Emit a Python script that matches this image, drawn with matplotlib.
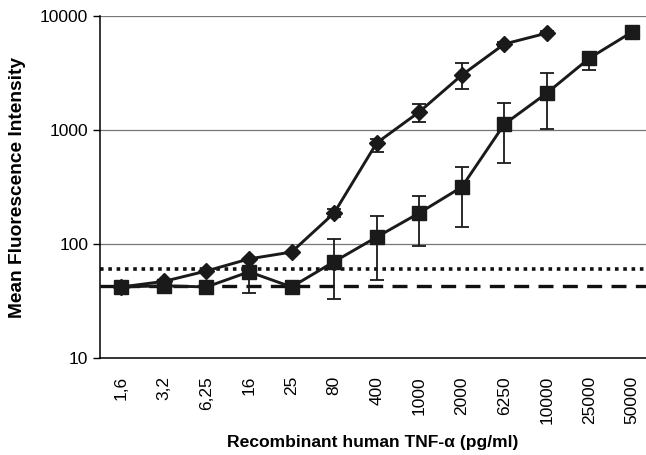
import matplotlib
matplotlib.use("Agg")
import matplotlib.pyplot as plt

plt.rcParams['font.family'] = ['Liberation Sans', 'DejaVu Sans']

doses = ["1,6", "3,2", "6,25", "16", "25", "80", "400", "1000", "2000",
         "6250", "10000", "25000", "50000"]

# diamond series (stops at 10000)
mfi_d = [42, 47, 58, 74, 85, 187, 770, 1440, 3030, 5680, 7080]
err_d_lo = [0, 0, 0, 0, 0, 15, 130, 265, 740, 250, 250]
err_d_hi = [0, 0, 0, 0, 0, 15, 65, 250, 840, 250, 250]

# square series
mfi_s = [42, 43, 42, 57, 42, 70, 115, 187, 316, 1125, 2110, 4270, 7230]
err_s_lo = [0, 0, 0, 20, 0, 37, 67, 91, 175, 610, 1090, 910, 0]
err_s_hi = [0, 0, 0, 3, 0, 41, 61, 76, 157, 600, 1060, 300, 0]

cutoff_dotted = 60
cutoff_dashed = 43

fig = plt.figure(figsize=(6.46, 4.55), dpi=100)
ax = fig.add_axes([0.155, 0.2132, 0.845, 0.7516])

xd = list(range(len(mfi_d)))
xs = list(range(len(mfi_s)))

ax.axhline(cutoff_dotted, color="#111111", linestyle=(0, (1, 1.3)), linewidth=2.6, zorder=2)
ax.axhline(cutoff_dashed, color="#111111", linestyle=(0, (4.5, 2.8)), linewidth=2.4, zorder=2)

ax.errorbar(xd, mfi_d, yerr=[err_d_lo, err_d_hi], color="#1a1a1a", marker="D",
            markersize=8.5, linewidth=2.1, elinewidth=1.3, capsize=5, capthick=1.3, zorder=4)
ax.errorbar(xs, mfi_s, yerr=[err_s_lo, err_s_hi], color="#1a1a1a", marker="s",
            markersize=10, linewidth=2.1, elinewidth=1.3, capsize=5, capthick=1.3, zorder=4)

ax.set_yscale("log")
ax.set_ylim(10, 10000)
ax.set_xlim(-0.5, 12.33)
ax.set_yticks([10, 100, 1000, 10000])
ax.set_yticklabels(["10", "100", "1000", "10000"], fontsize=12.5)
ax.minorticks_off()
ax.yaxis.grid(True, color="#777777", linewidth=0.9)
ax.set_axisbelow(True)

ax.set_xticks(range(len(doses)))
ax.set_xticklabels(doses, rotation=90, fontsize=12.5)
ax.tick_params(axis="x", length=0, pad=13)
ax.tick_params(axis="y", length=5, width=1, direction="out")

for s in ["top", "right"]:
    ax.spines[s].set_visible(False)
ax.spines["left"].set_linewidth(1.1)
ax.spines["bottom"].set_linewidth(1.1)

ax.set_ylabel("Mean Fluorescence Intensity", fontsize=13.8, fontweight="bold", labelpad=10)
ax.set_xlabel("Recombinant human TNF-α (pg/ml)", fontsize=12.6, fontweight="bold", labelpad=8)

fig.savefig("out.png", dpi=100)
